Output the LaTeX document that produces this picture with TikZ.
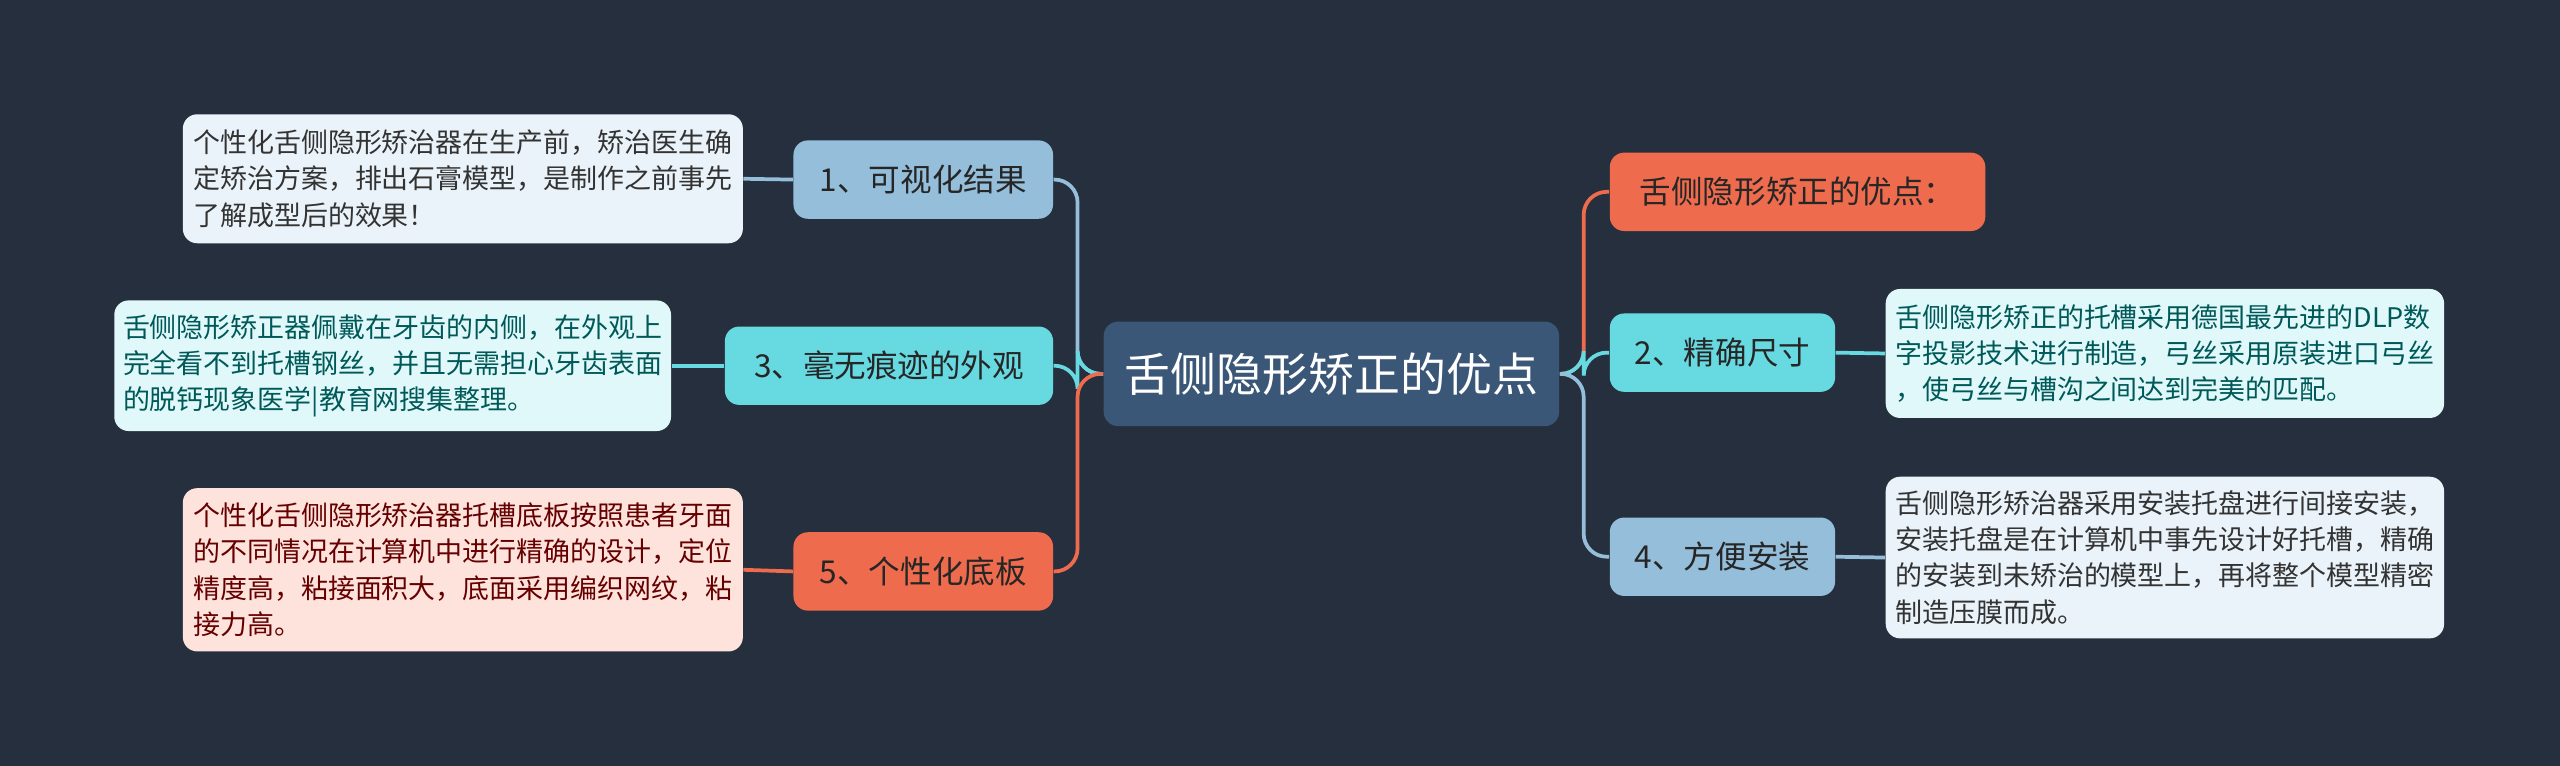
\documentclass[tikz,border=0pt]{standalone}
\usepackage{fontspec}
\setmainfont{Noto Sans CJK SC}
\begin{document}
\begin{tikzpicture}[x=0.02cm,y=-0.02cm,
 box/.style={rounded corners=5pt,inner sep=0pt,minimum height=#1*0.02cm},
 br/.style={box=48,font=\fontsize{11}{13}\selectfont,text=black!85},
 lf/.style={rounded corners=5pt,inner sep=0pt,align=left,font=\fontsize{9.4}{12.6}\selectfont},
 ln/.style={line width=1.3pt}]
\definecolor{bg}{HTML}{262F3D}
\definecolor{cen}{HTML}{3B5778}
\definecolor{lb}{HTML}{94BEDA}
\definecolor{cy}{HTML}{67D9E0}
\definecolor{og}{HTML}{EE6B4D}
\definecolor{lbf}{HTML}{EAF3FA}
\definecolor{cyf}{HTML}{E0F8F9}
\definecolor{ogf}{HTML}{FDE3DC}
\fill[bg] (0,0) rectangle (1568,469);
\useasboundingbox (0,0) rectangle (1568,469);
\node[box=64,minimum width=279*0.02cm,fill=cen,text=white,font=\fontsize{16}{18}\selectfont] (c) at (815.5,229) {舌侧隐形矫正的优点};
\node[br,minimum width=159*0.02cm,fill=lb] (n1) at (565.5,110) {1、可视化结果};
\node[br,minimum width=201*0.02cm,fill=cy] (n3) at (544.5,224) {3、毫无痕迹的外观};
\node[br,minimum width=159*0.02cm,fill=og] (n5) at (565.5,350) {5、个性化底板};
\node[br,minimum width=230*0.02cm,fill=og] (t) at (1101,117.5) {舌侧隐形矫正的优点：};
\node[br,minimum width=138*0.02cm,fill=cy] (n2) at (1055,216) {2、精确尺寸};
\node[br,minimum width=138*0.02cm,fill=lb] (n4) at (1055,341) {4、方便安装};
\node[lf,fill=lbf,text=black!80,minimum width=343*0.02cm,minimum height=79*0.02cm] (l1) at (283.5,109.5) {个性化舌侧隐形矫治器在生产前，矫治医生确\\定矫治方案，排出石膏模型，是制作之前事先\\了解成型后的效果！};
\node[lf,fill=cyf,text=teal!70!black,minimum width=341*0.02cm,minimum height=80*0.02cm] (l3) at (240.5,224) {舌侧隐形矫正器佩戴在牙齿的内侧，在外观上\\完全看不到托槽钢丝，并且无需担心牙齿表面\\的脱钙现象医学|教育网搜集整理。};
\node[lf,fill=ogf,text=red!40!black,minimum width=343*0.02cm,minimum height=100*0.02cm] (l5) at (283.5,349) {个性化舌侧隐形矫治器托槽底板按照患者牙面\\的不同情况在计算机中进行精确的设计，定位\\精度高，粘接面积大，底面采用编织网纹，粘\\接力高。};
\node[lf,fill=cyf,text=teal!70!black,minimum width=342*0.02cm,minimum height=79*0.02cm] (l2) at (1326,216.5) {舌侧隐形矫正的托槽采用德国最先进的DLP数\\字投影技术进行制造，弓丝采用原装进口弓丝\\，使弓丝与槽沟之间达到完美的匹配。};
\node[lf,fill=lbf,text=black!80,minimum width=342*0.02cm,minimum height=99*0.02cm] (l4) at (1326,341.5) {舌侧隐形矫治器采用安装托盘进行间接安装，\\安装托盘是在计算机中事先设计好托槽，精确\\的安装到未矫治的模型上，再将整个模型精密\\制造压膜而成。};
\draw[ln,lb,rounded corners=8pt] (c.west) -- (660,229) -- (660,110) -- (n1.east);
\draw[ln,cy,rounded corners=8pt] (c.west) -- (660,229) -- (660,224) -- (n3.east);
\draw[ln,og,rounded corners=8pt] (c.west) -- (660,229) -- (660,350) -- (n5.east);
\draw[ln,og,rounded corners=8pt] (c.east) -- (970,229) -- (970,117.5) -- (t.west);
\draw[ln,cy,rounded corners=8pt] (c.east) -- (970,229) -- (970,216) -- (n2.west);
\draw[ln,lb,rounded corners=8pt] (c.east) -- (970,229) -- (970,341) -- (n4.west);
\draw[ln,lb] (n1.west) -- (l1.east);
\draw[ln,cy] (n3.west) -- (l3.east);
\draw[ln,og] (n5.west) -- (l5.east);
\draw[ln,cy] (n2.east) -- (l2.west);
\draw[ln,lb] (n4.east) -- (l4.west);
\end{tikzpicture}
\end{document}
